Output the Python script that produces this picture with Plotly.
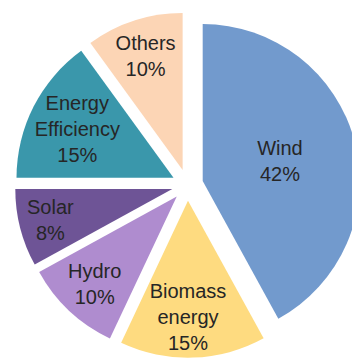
import plotly.graph_objects as go

# Share of each energy source (percent)
sources = ["Wind", "Biomass energy", "Hydro", "Solar", "Energy Efficiency", "Others"]
shares = [42, 15, 10, 8, 15, 10]
# Label text as it is wrapped inside each slice
wrapped_names = ["Wind", "Biomass<br>energy", "Hydro", "Solar", "Energy<br>Efficiency", "Others"]
colors = ["#729ACD", "#FEDB80", "#AF8CCF", "#6E5496", "#3A97AB", "#FCD5B5"]

# The figure is a little wider than the page so the Wind slice runs off the right edge
W, H = 370, 360

fig = go.Figure(
    go.Pie(
        labels=sources,
        values=shares,
        text=wrapped_names,
        texttemplate="%{text}<br>%{percent:.0%}",
        textposition="inside",
        insidetextorientation="horizontal",
        textfont=dict(family="Liberation Sans, Arial, sans-serif", size=20, color="#262626"),
        marker=dict(colors=colors, line=dict(width=0)),
        pull=[0.1] * len(shares),
        sort=False,
        direction="clockwise",
        rotation=0,
        hoverinfo="label+percent",
        domain=dict(x=[14.8 / W, 360.2 / W], y=[2.3 / H, 347.7 / H]),
    )
)

fig.update_layout(
    width=W,
    height=H,
    margin=dict(l=0, r=0, t=0, b=0),
    showlegend=False,
    paper_bgcolor="white",
    plot_bgcolor="white",
    # keep every slice label at full size instead of shrinking it to fit
    uniformtext=dict(minsize=20, mode="show"),
)

fig.write_html(
    "out.html",
    post_script="document.body.style.margin='0';document.body.style.overflow='hidden';"
    "document.documentElement.style.overflow='hidden';",
)
